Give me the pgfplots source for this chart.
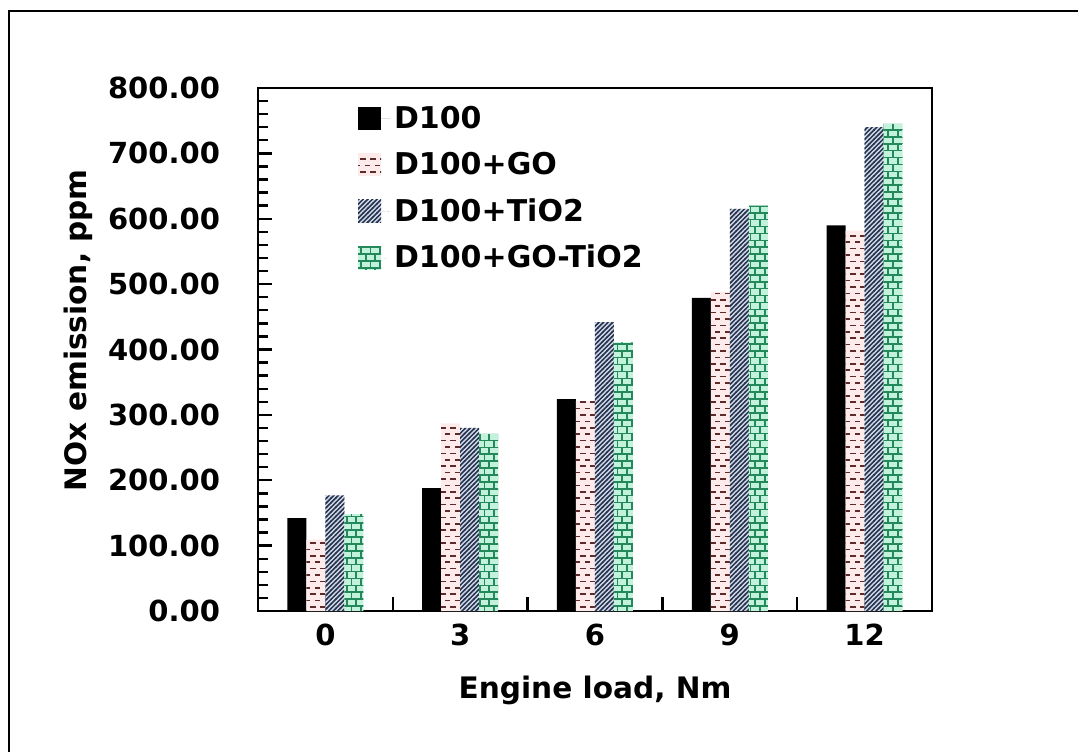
\documentclass[border=0pt]{standalone}
\usepackage{fontspec}
\setmainfont{DejaVu Sans}
\usepackage{pgfplots}
\pgfplotsset{compat=1.18}
\usetikzlibrary{patterns}

\definecolor{gofill}{HTML}{FDEBEB}
\definecolor{goline}{HTML}{5E2A2A}
\definecolor{tifill}{HTML}{D3DAE8}
\definecolor{tiline}{HTML}{26344F}
\definecolor{gtfill}{HTML}{C2F2DC}
\definecolor{gtline}{HTML}{23895A}

\pgfdeclarepatternformonly{godash}{\pgfqpoint{-1pt}{-1pt}}{\pgfqpoint{6pt}{7pt}}{\pgfqpoint{5pt}{6.4pt}}{%
  \pgfsetlinewidth{0.75pt}%
  \pgfpathmoveto{\pgfqpoint{0.2pt}{1.6pt}}\pgfpathlineto{\pgfqpoint{2.9pt}{1.6pt}}%
  \pgfpathmoveto{\pgfqpoint{2.7pt}{4.8pt}}\pgfpathlineto{\pgfqpoint{5.2pt}{4.8pt}}%
  \pgfusepath{stroke}}

\pgfdeclarepatternformonly{hatchne}{\pgfqpoint{-1pt}{-1pt}}{\pgfqpoint{3.4pt}{3.4pt}}{\pgfqpoint{2.3pt}{2.3pt}}{%
  \pgfsetlinewidth{0.75pt}%
  \pgfpathmoveto{\pgfqpoint{-0.2pt}{-0.2pt}}\pgfpathlineto{\pgfqpoint{2.5pt}{2.5pt}}%
  \pgfusepath{stroke}}

\pgfdeclarepatternformonly{brick}{\pgfqpoint{-1pt}{-1pt}}{\pgfqpoint{5.75pt}{7.9pt}}{\pgfqpoint{4.75pt}{6.9pt}}{%
  \pgfsetlinewidth{0.8pt}%
  \pgfpathmoveto{\pgfqpoint{0pt}{0pt}}\pgfpathlineto{\pgfqpoint{4.75pt}{0pt}}%
  \pgfpathmoveto{\pgfqpoint{0pt}{3.45pt}}\pgfpathlineto{\pgfqpoint{4.75pt}{3.45pt}}%
  \pgfpathmoveto{\pgfqpoint{0pt}{0pt}}\pgfpathlineto{\pgfqpoint{0pt}{3.45pt}}%
  \pgfpathmoveto{\pgfqpoint{2.375pt}{3.45pt}}\pgfpathlineto{\pgfqpoint{2.375pt}{6.9pt}}%
  \pgfusepath{stroke}}

\pgfplotstableread{
x d100 go tio2 gotio2
0 142 109 177 148
1 188 287 280 271
2 324 321 442 411
3 479 488 615 620
4 590 582 740 745
}\datatable

\begin{document}
\begin{tikzpicture}
\useasboundingbox (0,0) rectangle (539pt,375.5pt);
\draw[line width=1pt] (4.5pt,-2pt) -- (4.5pt,370pt) -- (541pt,370pt);
\begin{axis}[
  at={(129pt,70pt)}, anchor=south west,
  scale only axis, width=337pt, height=261.5pt,
  ybar=0pt, bar width=9.5pt,
  xmin=-0.5, xmax=4.5, ymin=0, ymax=800,
  xtick={0,0.5,1,1.5,2,2.5,3,3.5,4}, xticklabels={0,,3,,6,,9,,12},
  ytick={0,100,...,800}, minor y tick num=4,
  tick align=inside,
  major tick length=7pt, minor tick length=5pt,
  tick style={line width=1.2pt, black},
  xtick pos=bottom, ytick pos=left,
  axis line style={line width=1.4pt},
  /pgf/number format/.cd, fixed, fixed zerofill, precision=2, assume math mode=true,
  /pgfplots/.cd,
  tick label style={font=\fontsize{14.5}{16}\selectfont\bfseries},
  yticklabel style={xshift=-15.5pt},
  xticklabel style={yshift=-3pt},
  ylabel={NOx emission, ppm},
  xlabel={Engine load, Nm},
  label style={font=\fontsize{14.8}{16}\selectfont\bfseries},
  ylabel style={at={(axis description cs:-0.267,0.537)}, anchor=center},
  xlabel style={at={(axis description cs:0.5,-0.151)}, anchor=center},
  legend style={at={(axis description cs:0.139,0.982)}, anchor=north west, draw=none, fill=none,
    font=\fontsize{15}{17}\selectfont\bfseries, row sep=6.5pt},
  legend cell align=left,
  legend image code/.code={\draw[#1,draw=none] (0pt,-5.75pt) rectangle (11.5pt,5.75pt); \path (11.5pt,0pt) -- (16pt,0pt);},
  clip=false,
]
\addplot[fill=black, draw=none] table[x=x,y=d100] {\datatable};
\addplot[fill=gofill, draw=none, postaction={pattern=godash, pattern color=goline}] table[x=x,y=go] {\datatable};
\addplot[fill=tifill, draw=none, postaction={pattern=hatchne, pattern color=tiline}] table[x=x,y=tio2] {\datatable};
\addplot[fill=gtfill, draw=none, postaction={pattern=brick, pattern color=gtline}] table[x=x,y=gotio2] {\datatable};
\legend{D100, D100+GO, D100+TiO2, D100+GO-TiO2}
\end{axis}
\end{tikzpicture}
\end{document}
